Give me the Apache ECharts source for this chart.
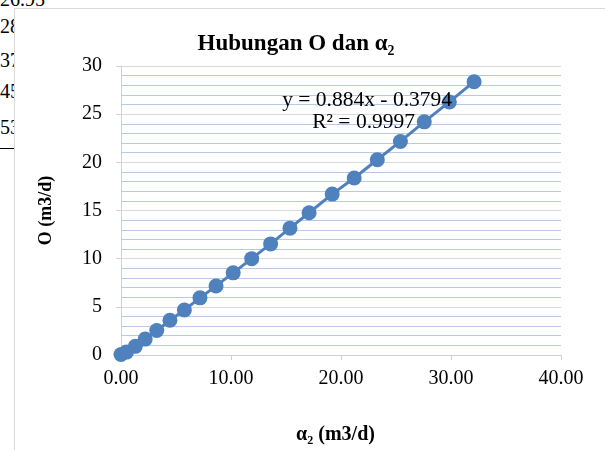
<!DOCTYPE html>
<html>
<head>
<meta charset="utf-8">
<script src="https://cdn.jsdelivr.net/npm/echarts@6/dist/echarts.min.js"></script>
<style>
  body { margin: 0; background: #fff; }
  .bg { position: absolute; left: 0; font: 20px 'Liberation Serif', serif; line-height: 20px; color: #000; }
  #box { position: absolute; left: 14px; top: 8px; width: 600px; height: 460px; background: #fff; border: 1px solid #d9d9d9; box-sizing: border-box; z-index: 1; }
  #main { position: absolute; left: 0; top: 0; width: 605px; height: 450px; z-index: 2; }
</style>
</head>
<body>
<!-- teks tabel di belakang grafik -->
<div class="bg" style="top:-11px">26.95</div>
<div class="bg" style="top:16px">28</div>
<div class="bg" style="top:50px">37</div>
<div class="bg" style="top:81px">45</div>
<div class="bg" style="top:117px">53</div>
<div style="position:absolute;left:0;top:148px;width:14px;height:1px;background:#000"></div>
<div id="box"></div>
<div id="main"></div>
<script>
// data
var alpha2 = [0.00, 0.50, 1.30, 2.20, 3.25, 4.45, 5.76, 7.18, 8.64, 10.20, 11.88, 13.60, 15.36, 17.10, 19.20, 21.20, 23.30, 25.40, 27.57, 29.85, 32.10];
var oVal = [0.05, 0.30, 0.90, 1.65, 2.55, 3.60, 4.67, 5.93, 7.17, 8.53, 10.00, 11.53, 13.17, 14.77, 16.70, 18.37, 20.27, 22.17, 24.20, 26.27, 28.37];
var xTicks = [0, 10, 20, 30, 40];
var yTicks = [0, 5, 10, 15, 20, 25, 30];

var font = "'Liberation Serif', serif";
var points = [];
for (var i = 0; i < alpha2.length; i++) {
  points.push([alpha2[i], oVal[i]]);
}

var myChart = echarts.init(document.getElementById('main'));
var option = {
  animation: false,
  title: {
    text: 'Hubungan O dan α₂',
    left: 291,
    textAlign: 'center',
    top: 28,
    textStyle: { fontFamily: font, fontWeight: 'bold', fontSize: 23, color: '#000' }
  },
  grid: { left: 121, right: 44, top: 66, bottom: 84 },
  xAxis: {
    type: 'value',
    min: xTicks[0],
    max: xTicks[xTicks.length - 1],
    interval: 10,
    name: 'α₂ (m3/d)',
    nameLocation: 'middle',
    nameGap: 70,
    nameTextStyle: { fontFamily: font, fontWeight: 'bold', fontSize: 20, color: '#000', padding: [0, 11, 0, 0] },
    axisLine: { show: true, lineStyle: { color: '#d0d0d0', width: 1 } },
    axisTick: { show: true, length: 5, lineStyle: { color: '#d0d0d0' } },
    axisLabel: {
      margin: 14,
      fontFamily: font, fontSize: 20, color: '#000',
      formatter: function (v) { return v.toFixed(2); }
    },
    splitLine: { show: false }
  },
  yAxis: {
    type: 'value',
    min: yTicks[0],
    max: yTicks[yTicks.length - 1],
    interval: 5,
    name: 'O (m3/d)',
    nameLocation: 'middle',
    nameRotate: 90,
    nameGap: 66,
    nameTextStyle: { fontFamily: font, fontWeight: 'bold', fontSize: 18, color: '#000' },
    axisLine: { show: true, lineStyle: { color: '#d0d0d0', width: 1 } },
    axisTick: { show: true, length: 5, lineStyle: { color: '#d0d0d0' } },
    axisLabel: { margin: 19, fontFamily: font, fontSize: 20, color: '#000' },
    splitLine: { show: true, lineStyle: { color: '#d9d9d9', width: 1 } },
    minorTick: { show: false, splitNumber: 5 },
    minorSplitLine: { show: true, lineStyle: { color: '#b7cae5', width: 1 } }
  },
  series: [{
    type: 'line',
    data: points,
    symbol: 'circle',
    symbolSize: 15,
    itemStyle: { color: '#4f81bd' },
    lineStyle: { color: '#4f81bd', width: 3 }
  }],
  graphic: {
    elements: [{
      type: 'text',
      x: 452,
      y: 100,
      style: { text: 'y = 0.884x - 0.3794', font: '21.5px ' + font, fill: '#000', align: 'right', verticalAlign: 'middle' },
      z: 100
    }, {
      type: 'text',
      x: 415,
      y: 122,
      style: { text: 'R² = 0.9997', font: '21.5px ' + font, fill: '#000', align: 'right', verticalAlign: 'middle' },
      z: 100
    }]
  }
};
myChart.setOption(option);
</script>
</body>
</html>
